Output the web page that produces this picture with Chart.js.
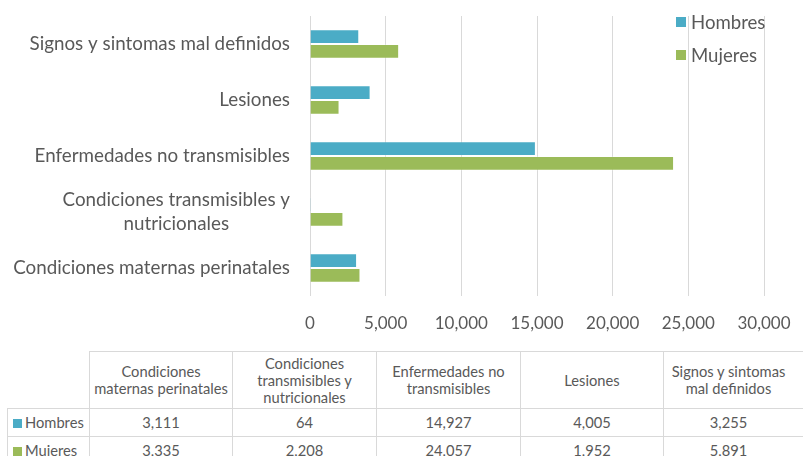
<!DOCTYPE html>
<html>
<head>
<meta charset="utf-8">
<script src="https://cdn.jsdelivr.net/npm/chart.js@4.4.1/dist/chart.umd.min.js"></script>
<style>
  html, body { margin:0; padding:0; background:#fff; }
  body { width:803px; height:456px; position:relative; overflow:hidden; font-family:Lato, "Open Sans", sans-serif; }
  #wrap { position:absolute; left:0; top:0; width:803px; height:340px; }
  #tbl { position:absolute; left:7px; top:351px; width:816px; border-collapse:collapse; table-layout:fixed; color:#595959; font-family:Lato, sans-serif; font-size:14.7px; }
  #tbl td, #tbl th { border:1px solid #d9d9d9; padding:0; text-align:center; font-weight:normal; }
  #tbl th { height:56px; line-height:17px; }
  #tbl td { height:27px; line-height:27px; }
  #tbl th:last-child, #tbl td:last-child { padding-right:30px; }
  #tbl th.corner { border-top:none; border-left:none; }
  #tbl td.rowhead { text-align:left; padding-left:5px; white-space:nowrap; }
  .key { display:inline-block; width:9px; height:9px; margin-right:3px; vertical-align:0px; }
</style>
</head>
<body>
<div id="wrap"><canvas id="c" width="803" height="340"></canvas></div>
<table id="tbl"></table>
<script>
// ---- data (table order: first category drawn at bottom of chart) ----
const categories = [
  ["Condiciones maternas perinatales"],
  ["Condiciones transmisibles y", "nutricionales"],
  ["Enfermedades no transmisibles"],
  ["Lesiones"],
  ["Signos y sintomas mal definidos"]
];
const tableHeaders = [
  ["Condiciones", "maternas perinatales"],
  ["Condiciones", "transmisibles y", "nutricionales"],
  ["Enfermedades no", "transmisibles"],
  ["Lesiones"],
  ["Signos y sintomas", "mal definidos"]
];
const seriesNames = ["Hombres", "Mujeres"];
const hombres = [3111, 64, 14927, 4005, 3255];
const mujeres = [3335, 2208, 24057, 1952, 5891];
const xTicks = [0, 5000, 10000, 15000, 20000, 25000, 30000];
const colors = ["#4BACC6", "#9BBB59"];

const TXT = "#595959";
const fmt = v => Number(v).toLocaleString("en-US");

// custom y labels: single lines right-aligned, multi-line blocks centered
const yLabelPlugin = {
  id: "yLabels",
  afterDraw(chart) {
    const ctx = chart.ctx, y = chart.scales.y;
    ctx.save();
    ctx.font = "18.8px Lato";
    ctx.fillStyle = TXT;
    ctx.textBaseline = "middle";
    const xr = chart.chartArea.left - 20;
    chart.data.labels.forEach((lab, i) => {
      const lines = Array.isArray(lab) ? lab : [lab];
      const cy = y.getPixelForValue(i);
      const lh = 23.5;
      const y0 = cy - (lines.length - 1) * lh / 2;
      if (lines.length === 1) {
        ctx.textAlign = "right";
        ctx.fillText(lines[0], xr, cy);
      } else {
        const w = Math.max(...lines.map(l => ctx.measureText(l).width));
        ctx.textAlign = "center";
        lines.forEach((l, k) => ctx.fillText(l, xr - w / 2, y0 + k * lh));
      }
    });
    ctx.restore();
  }
};

const legendPlugin = {
  id: "customLegend",
  afterDraw(chart) {
    const ctx = chart.ctx;
    ctx.save();
    ctx.font = "18.6px Lato";
    ctx.textBaseline = "middle";
    ctx.textAlign = "left";
    chart.data.datasets.forEach((ds, i) => {
      const top = 17 + i * 33;
      ctx.fillStyle = ds.backgroundColor;
      ctx.fillRect(676, top, 10, 10);
      ctx.fillStyle = TXT;
      ctx.fillText(ds.label, 691, top + 5.5);
    });
    ctx.restore();
  }
};

new Chart(document.getElementById("c"), {
  type: "bar",
  data: {
    labels: categories,
    datasets: [
      { label: seriesNames[0], data: hombres, backgroundColor: colors[0], borderColor: "rgba(255,255,255,0.25)", borderWidth: 1 },
      { label: seriesNames[1], data: mujeres, backgroundColor: colors[1], borderColor: "rgba(255,255,255,0.25)", borderWidth: 1 }
    ]
  },
  options: {
    indexAxis: "y",
    responsive: false,
    animation: false,
    layout: { padding: { top: 16, right: 39, left: 0, bottom: 0 } },
    categoryPercentage: 0.525,
    barPercentage: 1,
    plugins: { legend: { display: false }, tooltip: { enabled: false } },
    scales: {
      x: {
        min: 0, max: 30000,
        afterBuildTicks: s => { s.ticks = xTicks.map(v => ({ value: v })); },
        afterFit: s => { s.height = 44; s.paddingRight = 0; s.paddingLeft = 0; },
        grid: { color: "#d9d9d9", drawTicks: false, lineWidth: 1 },
        border: { display: false },
        ticks: { color: TXT, font: { family: "Lato", size: 17 }, padding: 17, callback: v => fmt(v), maxRotation: 0 }
      },
      y: {
        reverse: true,
        afterFit: s => { s.width = 310; s.paddingTop = 0; s.paddingBottom = 0; },
        grid: { display: false, drawTicks: false },
        border: { display: false },
        ticks: { display: false }
      }
    }
  },
  plugins: [yLabelPlugin, legendPlugin]
});

// ---- data table ----
const tbl = document.getElementById("tbl");
const colW = [82, 143, 144, 144, 143, 160];
let cg = "<colgroup>" + colW.map(w => `<col style="width:${w}px">`).join("") + "</colgroup>";
let html = cg + "<tr><th class='corner'></th>" + tableHeaders.map(h => `<th>${h.join("<br>")}</th>`).join("") + "</tr>";
[hombres, mujeres].forEach((arr, i) => {
  html += `<tr><td class="rowhead"><span class="key" style="background:${colors[i]}"></span>${seriesNames[i]}</td>` +
    arr.map(v => `<td>${fmt(v)}</td>`).join("") + "</tr>";
});
tbl.innerHTML = html;
</script>
</body>
</html>
